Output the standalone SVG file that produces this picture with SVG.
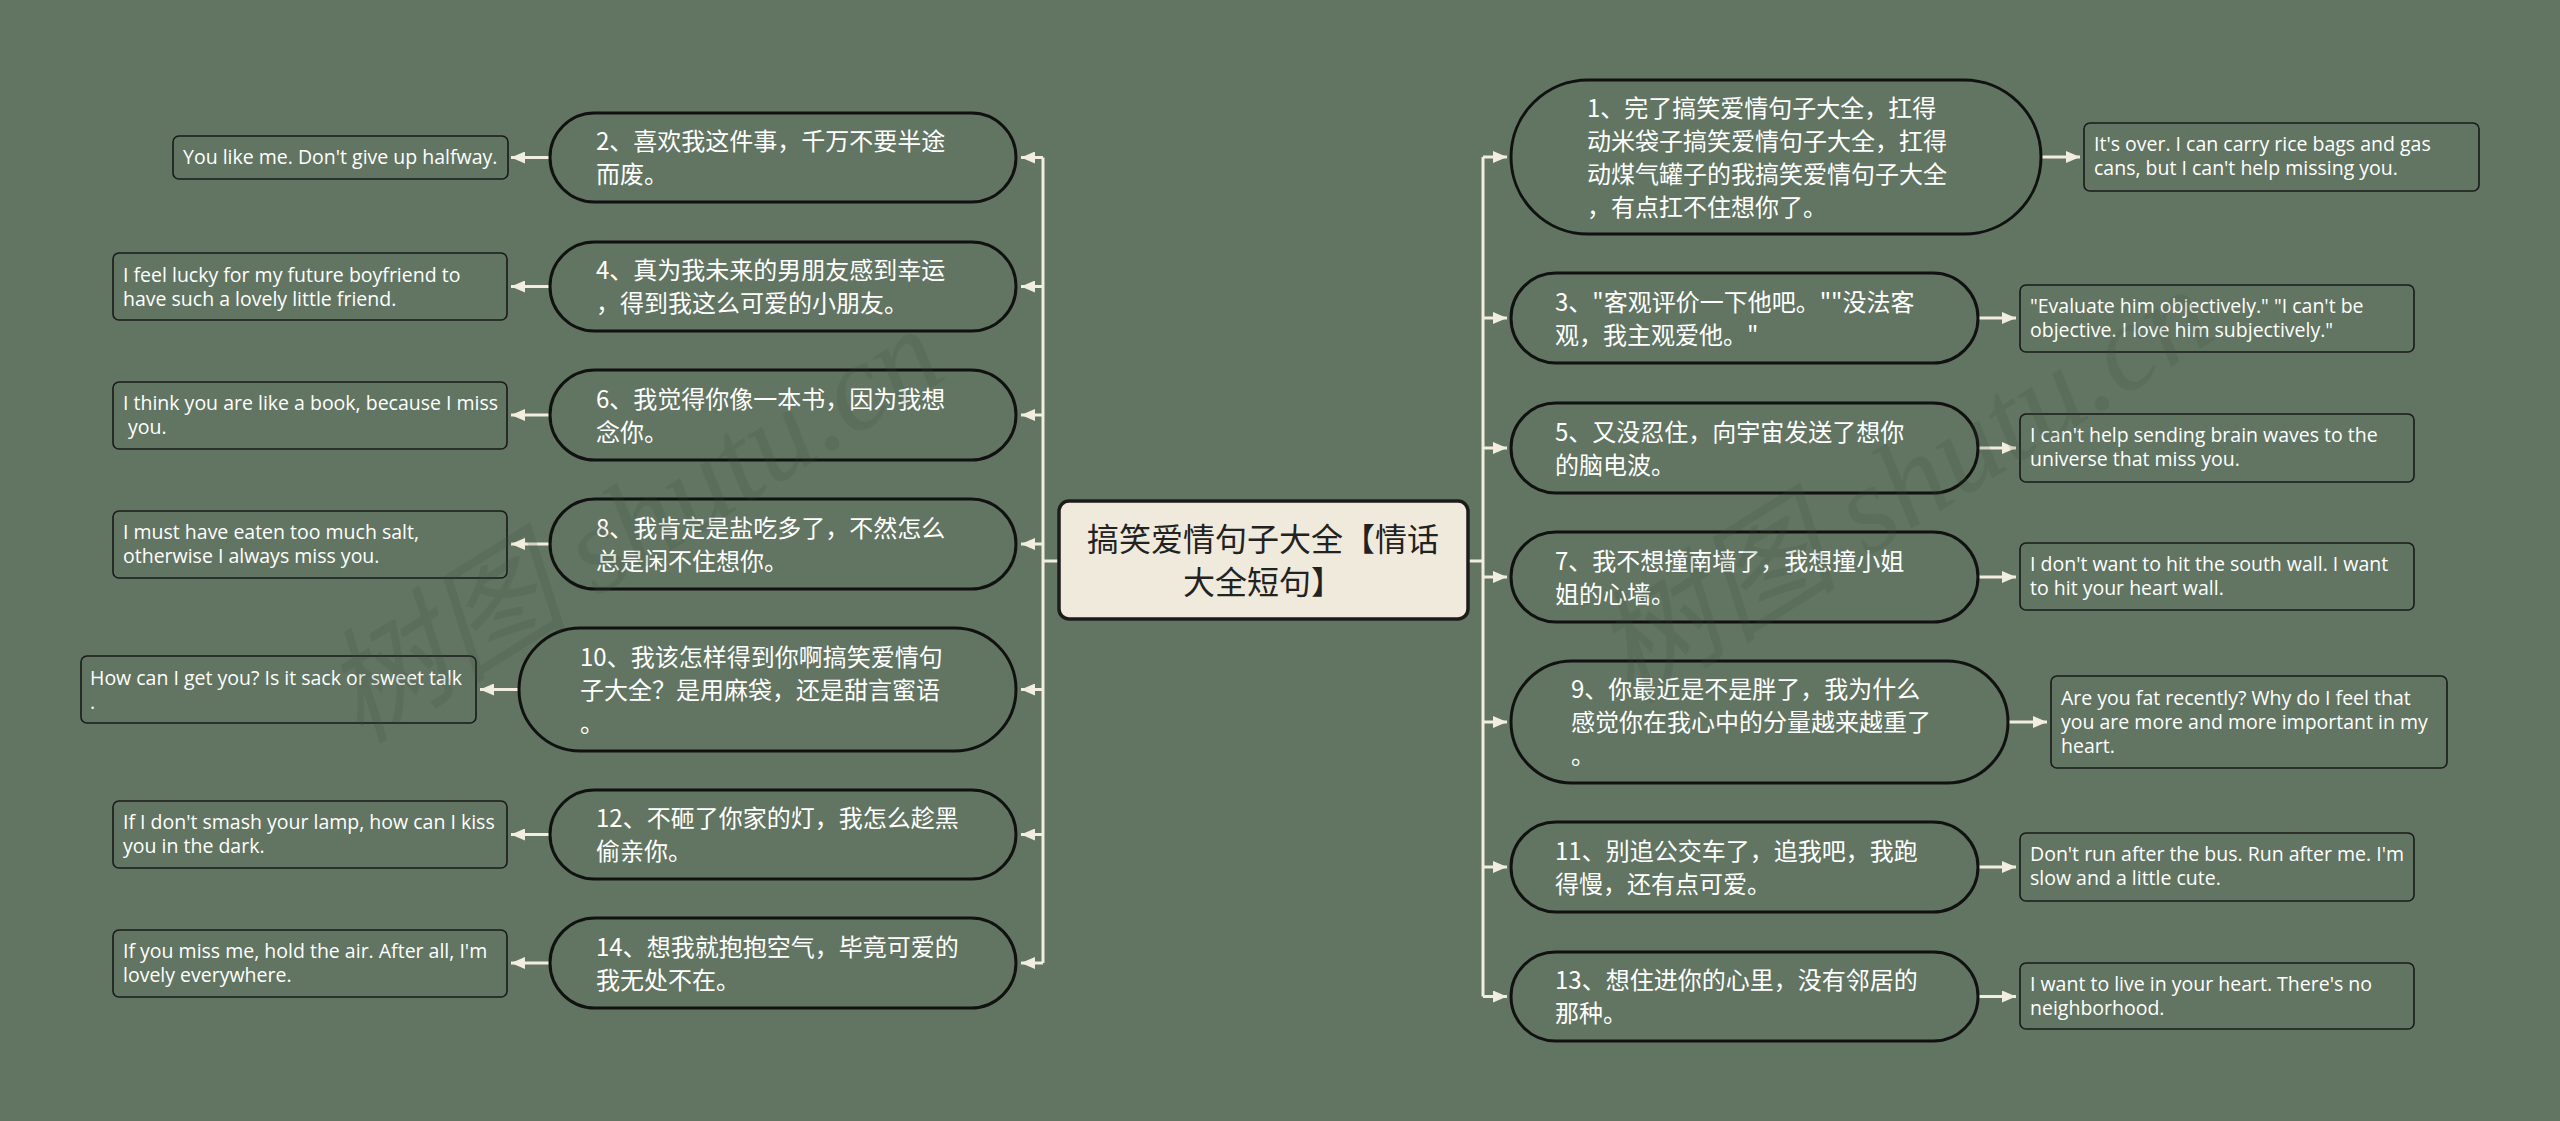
<svg xmlns="http://www.w3.org/2000/svg" width="2560" height="1121" viewBox="0 0 2560 1121">
<style>
.bg{fill:#627562}
.wm{font-family:"Liberation Serif","Noto Sans CJK SC",serif;font-style:italic;font-size:124px;fill:#3c4b3d;opacity:0.16}
.node rect.pill{fill:#627562;stroke:#111;stroke-width:3}
.node rect.leaf{fill:#627562;stroke:#1a1a1a;stroke-width:1.6}
.cn{font-family:"Noto Sans CJK SC","Noto Sans",sans-serif;font-size:24px;fill:#ffffff}
.en{font-family:"Open Sans","Liberation Sans",sans-serif;font-size:19.5px;fill:#ffffff}
.root rect{fill:#efeadb;stroke:#1c1c1c;stroke-width:3.5}
.rt{font-family:"Noto Sans CJK SC","Noto Sans",sans-serif;font-size:32px;fill:#222;text-anchor:middle}
.ln{stroke:#f2eedf;stroke-width:3;fill:none}
.ar{stroke:#f2eedf;stroke-width:3;fill:none;marker-end:url(#ah)}
</style>
<defs>
<marker id="ah" markerUnits="userSpaceOnUse" markerWidth="14" markerHeight="12" refX="14" refY="6" orient="auto">
<path d="M0,0 L14,6 L0,12 Z" fill="#f2eedf"/>
</marker>
</defs>
<rect class="bg" x="0" y="0" width="2560" height="1121"/>
<g id="connectors">
<path class="ln" d="M1059,561 H1043 M1043,157.5 V963"/>
<path class="ar" d="M1043,157.5 H1021"/>
<path class="ar" d="M1043,286.5 H1021"/>
<path class="ar" d="M1043,415 H1021"/>
<path class="ar" d="M1043,544 H1021"/>
<path class="ar" d="M1043,689.5 H1021"/>
<path class="ar" d="M1043,834.5 H1021"/>
<path class="ar" d="M1043,963 H1021"/>
<path class="ar" d="M550,157.5 H511"/>
<path class="ar" d="M550,286.5 H511"/>
<path class="ar" d="M550,415 H511"/>
<path class="ar" d="M550,544 H511"/>
<path class="ar" d="M519,689.5 H480"/>
<path class="ar" d="M550,834.5 H511"/>
<path class="ar" d="M550,963 H511"/>
<path class="ln" d="M1468,561 H1483 M1483,157 V996.5"/>
<path class="ar" d="M1483,157 H1507"/>
<path class="ar" d="M1483,318 H1507"/>
<path class="ar" d="M1483,448 H1507"/>
<path class="ar" d="M1483,577 H1507"/>
<path class="ar" d="M1483,722 H1507"/>
<path class="ar" d="M1483,867 H1507"/>
<path class="ar" d="M1483,996.5 H1507"/>
<path class="ar" d="M2041,157 H2080"/>
<path class="ar" d="M1978,318 H2016"/>
<path class="ar" d="M1978,448 H2016"/>
<path class="ar" d="M1978,577 H2016"/>
<path class="ar" d="M2008,722 H2047"/>
<path class="ar" d="M1978,867 H2016"/>
<path class="ar" d="M1978,996.5 H2016"/>
</g>
<g id="root" class="root">
<rect x="1059" y="501" width="409" height="118" rx="10"/>
<text class="rt" x="1263" y="551">搞笑爱情句子大全【情话</text>
<text class="rt" x="1263" y="594">大全短句】</text>
</g>
<g id="n2" class="node">
<rect class="pill" x="550" y="113" width="466" height="89" rx="44.5"/>
<text class="cn" x="596" y="150">2、喜欢我这件事，千万不要半途</text>
<text class="cn" x="596" y="183">而废。</text>
</g>
<g id="e2" class="node">
<rect class="leaf" x="173" y="136" width="335" height="43" rx="6"/>
<text class="en" x="183" y="164">You like me. Don't give up halfway.</text>
</g>
<g id="n4" class="node">
<rect class="pill" x="550" y="242" width="466" height="89" rx="44.5"/>
<text class="cn" x="596" y="279">4、真为我未来的男朋友感到幸运</text>
<text class="cn" x="596" y="312">，得到我这么可爱的小朋友。</text>
</g>
<g id="e4" class="node">
<rect class="leaf" x="113" y="253" width="394" height="67" rx="6"/>
<text class="en" x="123" y="281.5">I feel lucky for my future boyfriend to</text>
<text class="en" x="123" y="305.5">have such a lovely little friend.</text>
</g>
<g id="n6" class="node">
<rect class="pill" x="550" y="370" width="466" height="90" rx="45"/>
<text class="cn" x="596" y="407.5">6、我觉得你像一本书，因为我想</text>
<text class="cn" x="596" y="440.5">念你。</text>
</g>
<g id="e6" class="node">
<rect class="leaf" x="113" y="382" width="394" height="67" rx="6"/>
<text class="en" x="123" y="410">I think you are like a book, because I miss</text>
<text class="en" x="123" y="434" xml:space="preserve"> you.</text>
</g>
<g id="n8" class="node">
<rect class="pill" x="550" y="499" width="466" height="90" rx="45"/>
<text class="cn" x="596" y="536.5">8、我肯定是盐吃多了，不然怎么</text>
<text class="cn" x="596" y="569.5">总是闲不住想你。</text>
</g>
<g id="e8" class="node">
<rect class="leaf" x="113" y="511" width="394" height="67" rx="6"/>
<text class="en" x="123" y="539">I must have eaten too much salt,</text>
<text class="en" x="123" y="563">otherwise I always miss you.</text>
</g>
<g id="n10" class="node">
<rect class="pill" x="519" y="628" width="497" height="123" rx="61.5"/>
<text class="cn" x="580" y="665.5">10、我该怎样得到你啊搞笑爱情句</text>
<text class="cn" x="580" y="698.5">子大全？是用麻袋，还是甜言蜜语</text>
<text class="cn" x="580" y="731.5">。</text>
</g>
<g id="e10" class="node">
<rect class="leaf" x="81" y="656" width="395" height="67" rx="6"/>
<text class="en" x="90" y="684.5">How can I get you? Is it sack or sweet talk</text>
<text class="en" x="90" y="708.5">.</text>
</g>
<g id="n12" class="node">
<rect class="pill" x="550" y="790" width="466" height="89" rx="44.5"/>
<text class="cn" x="596" y="826.5">12、不砸了你家的灯，我怎么趁黑</text>
<text class="cn" x="596" y="859.5">偷亲你。</text>
</g>
<g id="e12" class="node">
<rect class="leaf" x="113" y="801" width="394" height="67" rx="6"/>
<text class="en" x="123" y="829">If I don't smash your lamp, how can I kiss</text>
<text class="en" x="123" y="853">you in the dark.</text>
</g>
<g id="n14" class="node">
<rect class="pill" x="550" y="918" width="466" height="90" rx="45"/>
<text class="cn" x="596" y="955.5">14、想我就抱抱空气，毕竟可爱的</text>
<text class="cn" x="596" y="988.5">我无处不在。</text>
</g>
<g id="e14" class="node">
<rect class="leaf" x="113" y="930" width="394" height="67" rx="6"/>
<text class="en" x="123" y="958">If you miss me, hold the air. After all, I'm</text>
<text class="en" x="123" y="982">lovely everywhere.</text>
</g>
<g id="n1" class="node">
<rect class="pill" x="1511" y="80" width="530" height="154" rx="77"/>
<text class="cn" x="1587" y="116.5">1、完了搞笑爱情句子大全，扛得</text>
<text class="cn" x="1587" y="149.5">动米袋子搞笑爱情句子大全，扛得</text>
<text class="cn" x="1587" y="182.5">动煤气罐子的我搞笑爱情句子大全</text>
<text class="cn" x="1587" y="215.5">，有点扛不住想你了。</text>
</g>
<g id="e1" class="node">
<rect class="leaf" x="2084" y="123" width="395" height="68" rx="6"/>
<text class="en" x="2094" y="151">It's over. I can carry rice bags and gas</text>
<text class="en" x="2094" y="175">cans, but I can't help missing you.</text>
</g>
<g id="n3" class="node">
<rect class="pill" x="1511" y="273" width="467" height="90" rx="45"/>
<text class="cn" x="1555" y="310.5">3、"客观评价一下他吧。""没法客</text>
<text class="cn" x="1555" y="343.5">观，我主观爱他。"</text>
</g>
<g id="e3" class="node">
<rect class="leaf" x="2020" y="285" width="394" height="67" rx="6"/>
<text class="en" x="2030" y="313">"Evaluate him objectively." "I can't be</text>
<text class="en" x="2030" y="337">objective. I love him subjectively."</text>
</g>
<g id="n5" class="node">
<rect class="pill" x="1511" y="403" width="467" height="90" rx="45"/>
<text class="cn" x="1555" y="440.5">5、又没忍住，向宇宙发送了想你</text>
<text class="cn" x="1555" y="473.5">的脑电波。</text>
</g>
<g id="e5" class="node">
<rect class="leaf" x="2020" y="414" width="394" height="68" rx="6"/>
<text class="en" x="2030" y="442">I can't help sending brain waves to the</text>
<text class="en" x="2030" y="466">universe that miss you.</text>
</g>
<g id="n7" class="node">
<rect class="pill" x="1511" y="532" width="467" height="90" rx="45"/>
<text class="cn" x="1555" y="569.5">7、我不想撞南墙了，我想撞小姐</text>
<text class="cn" x="1555" y="602.5">姐的心墙。</text>
</g>
<g id="e7" class="node">
<rect class="leaf" x="2020" y="543" width="394" height="67" rx="6"/>
<text class="en" x="2030" y="571">I don't want to hit the south wall. I want</text>
<text class="en" x="2030" y="595">to hit your heart wall.</text>
</g>
<g id="n9" class="node">
<rect class="pill" x="1511" y="661" width="497" height="122" rx="61"/>
<text class="cn" x="1571" y="698">9、你最近是不是胖了，我为什么</text>
<text class="cn" x="1571" y="731">感觉你在我心中的分量越来越重了</text>
<text class="cn" x="1571" y="764">。</text>
</g>
<g id="e9" class="node">
<rect class="leaf" x="2051" y="676" width="396" height="92" rx="6"/>
<text class="en" x="2061" y="705">Are you fat recently? Why do I feel that</text>
<text class="en" x="2061" y="729">you are more and more important in my</text>
<text class="en" x="2061" y="753">heart.</text>
</g>
<g id="n11" class="node">
<rect class="pill" x="1511" y="822" width="467" height="90" rx="45"/>
<text class="cn" x="1555" y="859.5">11、别追公交车了，追我吧，我跑</text>
<text class="cn" x="1555" y="892.5">得慢，还有点可爱。</text>
</g>
<g id="e11" class="node">
<rect class="leaf" x="2020" y="833" width="394" height="68" rx="6"/>
<text class="en" x="2030" y="861">Don't run after the bus. Run after me. I'm</text>
<text class="en" x="2030" y="885">slow and a little cute.</text>
</g>
<g id="n13" class="node">
<rect class="pill" x="1511" y="952" width="467" height="89" rx="44.5"/>
<text class="cn" x="1555" y="988.5">13、想住进你的心里，没有邻居的</text>
<text class="cn" x="1555" y="1021.5">那种。</text>
</g>
<g id="e13" class="node">
<rect class="leaf" x="2020" y="963" width="394" height="66" rx="6"/>
<text class="en" x="2030" y="990.5">I want to live in your heart. There's no</text>
<text class="en" x="2030" y="1014.5">neighborhood.</text>
</g>
<g id="watermark">
<text class="wm" transform="translate(360,745) rotate(-32)">树图 shutu.cn</text>
<text class="wm" transform="translate(1630,705) rotate(-32)">树图 shutu.cn</text>
</g>
</svg>
